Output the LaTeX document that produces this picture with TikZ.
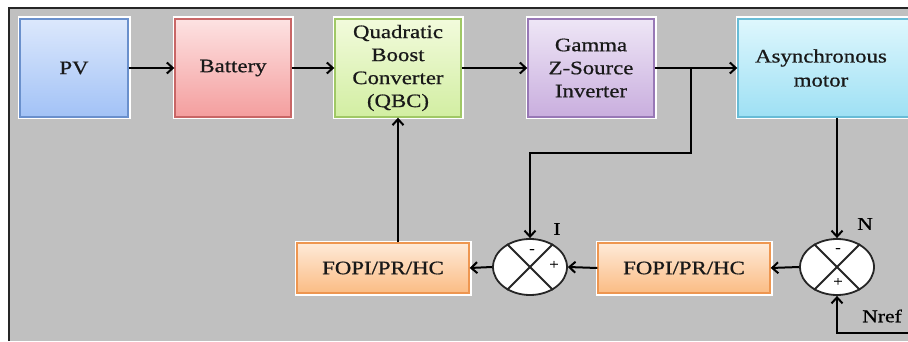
\documentclass[tikz,border=0pt]{standalone}
\usepackage{fontspec}
\setmainfont{Liberation Serif}[FakeStretch=1.2, FakeBold=0.7]
\usetikzlibrary{arrows.meta,shapes.geometric,calc}

\definecolor{panel}{HTML}{C0C0C0}
\definecolor{pvT}{HTML}{DCE8FC}\definecolor{pvB}{HTML}{A2C2F6}\definecolor{pvD}{HTML}{6A90CC}
\definecolor{baT}{HTML}{FDE2E2}\definecolor{baB}{HTML}{F49E9E}\definecolor{baD}{HTML}{C86666}
\definecolor{qbT}{HTML}{F2FBDC}\definecolor{qbB}{HTML}{D2EEA2}\definecolor{qbD}{HTML}{A0C866}
\definecolor{gzT}{HTML}{EEE6F6}\definecolor{gzB}{HTML}{C9AEDE}\definecolor{gzD}{HTML}{9878B6}
\definecolor{moT}{HTML}{DEF7FD}\definecolor{moB}{HTML}{9EE0F4}\definecolor{moD}{HTML}{68BCD6}
\definecolor{foT}{HTML}{FEEAD8}\definecolor{foB}{HTML}{FBBC84}\definecolor{foD}{HTML}{EE9650}

\tikzset{
  blk/.style n args={3}{draw=#3, line width=1.4pt, top color=#1, bottom color=#2,
    preaction={draw=white, line width=5pt},
    inner sep=0pt, align=center, text=black!90,
    font=\fontsize{19}{23}\selectfont},
  sumjn/.style={ellipse, draw=black!85, line width=1.8pt, fill=white,
    minimum width=74pt, minimum height=56pt, inner sep=0pt},
  arr/.style={line width=2pt, -{Straight Barb[length=6pt,width=11pt,line width=2pt]}},
  lbl/.style={font=\fontsize{18}{20}\selectfont, inner sep=0pt},
  sgn/.style={font=\fontsize{14}{15}\selectfont, inner sep=0pt},
}

\begin{document}
\begin{tikzpicture}[x=1pt, y=-1pt]
  \useasboundingbox (0,0) rectangle (908,342);
  \clip (0,0) rectangle (908,342);

  % grey panel with its frame
  \fill[panel] (9,8) rectangle (930,341);
  \draw[line width=1.8pt, black!85] (9,341) -- (9,8) -- (930,8);

  % power path
  \node[blk={pvT}{pvB}{pvD}, minimum width=108pt, minimum height=98pt] (pv) at (74,68) {PV};
  \node[blk={baT}{baB}{baD}, minimum width=116pt, minimum height=98pt] (bat) at (233,68) {Battery};
  \node[blk={qbT}{qbB}{qbD}, minimum width=126pt, minimum height=98pt] (qbc) at (398,68)
    {Quadratic\\Boost\\Converter\\(QBC)};
  \node[blk={gzT}{gzB}{gzD}, minimum width=126pt, minimum height=98pt] (gz) at (591,68)
    {Gamma\\Z-Source\\Inverter};
  \node[blk={moT}{moB}{moD}, minimum width=176pt, minimum height=98pt] (mot) at (826,68) {};
  \node[font=\fontsize{19}{24}\selectfont, align=center, text=black!90] (motxt) at (821,68) {Asynchronous\\motor};

  % control path
  \node[blk={foT}{foB}{foD}, minimum width=172pt, minimum height=50pt] (f1) at (383,268) {FOPI/PR/HC};
  \node[blk={foT}{foB}{foD}, minimum width=172pt, minimum height=50pt] (f2) at (684,268) {FOPI/PR/HC};
  \node[sumjn] (sI) at (530,267) {};
  \node[sumjn] (sN) at (837,267) {};
  \foreach \s in {sI,sN}{
    \draw[line width=1.8pt, black!85] (\s.135) -- (\s.315);
    \draw[line width=1.8pt, black!85] (\s.45) -- (\s.225);
  }
  \node[sgn] (sIm) at (532,251) {-};
  \node[sgn] (sIp) at (554,265) {+};
  \node[sgn] (sNm) at (838,250) {-};
  \node[sgn] (sNp) at (838,282) {+};

  \node[lbl] (lI) at (557,229) {I};
  \node[lbl] (lN) at (865,224) {N};
  \node[lbl] (lNr) at (882,316) {Nref};

  % connectors
  \draw[arr] (pv) -- (bat);
  \draw[arr] (bat) -- (qbc);
  \draw[arr] (qbc) -- (gz);
  \draw[arr] (gz) -- (mot.west);
  \coordinate (br) at (691,68);
  \coordinate (k1) at (691,153);
  \coordinate (k2) at (530,153);
  \draw[arr] (br) -- (k1) -- (k2) -- (sI.north);
  \draw[arr] (sN |- mot.south) -- (sN.north);
  \draw[arr] (sN.west) -- (f2.east);
  \draw[arr] (f2.west) -- (sI.east);
  \draw[arr] (sI.west) -- (f1.east);
  \draw[arr] (qbc.south |- f1.north) -- (qbc.south);
  \coordinate (nr) at (915,333);
  \draw[arr] (nr) -| (sN.south);
\end{tikzpicture}
\end{document}
